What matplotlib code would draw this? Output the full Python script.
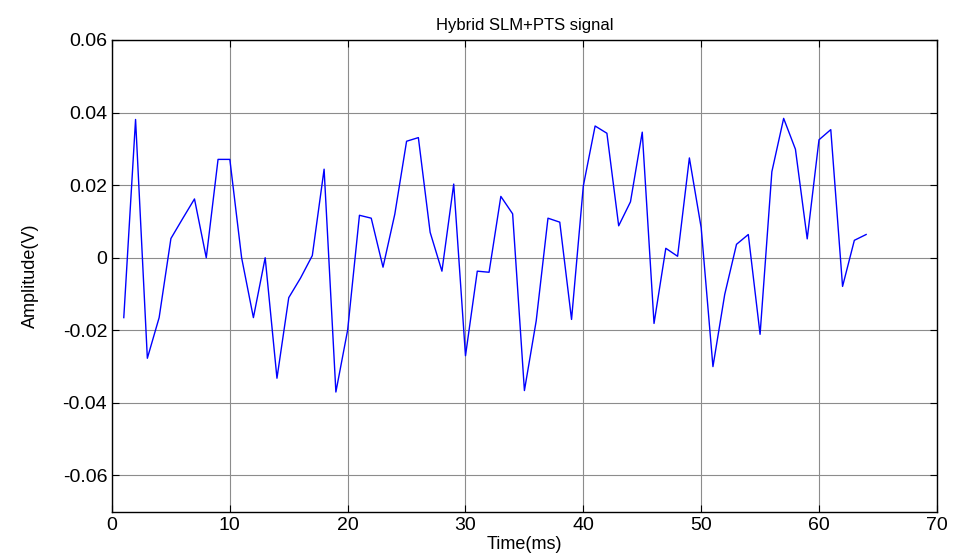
import matplotlib.pyplot as plt
import numpy as np

plt.rcParams['font.family'] = ['Liberation Sans', 'DejaVu Sans']

# sample index (ms) and amplitude values
t = np.arange(1, 65)
amp = [
    -0.0165, 0.0381, -0.0277, -0.0165, 0.0053, 0.0108, 0.0162, 0.0000,
    0.0271, 0.0271, 0.0000, -0.0165, 0.0000, -0.0332, -0.0110, -0.0056,
    0.0006, 0.0244, -0.0370, -0.0199, 0.0117, 0.0109, -0.0026, 0.0120,
    0.0321, 0.0331, 0.0070, -0.0037, 0.0203, -0.0270, -0.0037, -0.0040,
    0.0169, 0.0121, -0.0366, -0.0174, 0.0109, 0.0098, -0.0170, 0.0198,
    0.0363, 0.0343, 0.0088, 0.0154, 0.0346, -0.0181, 0.0026, 0.0004,
    0.0275, 0.0083, -0.0300, -0.0101, 0.0037, 0.0064, -0.0211, 0.0237,
    0.0384, 0.0299, 0.0052, 0.0325, 0.0353, -0.0079, 0.0048, 0.0064,
]
xticks = [0, 10, 20, 30, 40, 50, 60, 70]
yticks = [-0.06, -0.04, -0.02, 0, 0.02, 0.04, 0.06]

fig = plt.figure(figsize=(9.54, 5.6), dpi=100)
ax = fig.add_axes([0.1174, 0.0861, 0.8646, 0.8425])

ax.plot(t, amp, color='#0000ff', linewidth=1.0)

ax.set_xlim(0, 70)
ax.set_ylim(-0.07, 0.06)
ax.set_xticks(xticks)
ax.set_yticks(yticks)
ax.set_yticklabels(['-0.06', '-0.04', '-0.02', '0', '0.02', '0.04', '0.06'])
ax.tick_params(direction='in', top=True, right=True, labelsize=14, length=5, width=0.8)
ax.grid(True, color='#8c8c8c', linewidth=0.8, linestyle='-')
ax.set_axisbelow(True)
for s in ax.spines.values():
    s.set_linewidth(1.0)

ax.set_title('Hybrid SLM+PTS signal', fontsize=12, pad=7)
ax.set_xlabel('Time(ms)', fontsize=13, labelpad=2)
ax.set_ylabel('Amplitude(V)', fontsize=13, labelpad=17)

fig.savefig('out.png', dpi=100)
